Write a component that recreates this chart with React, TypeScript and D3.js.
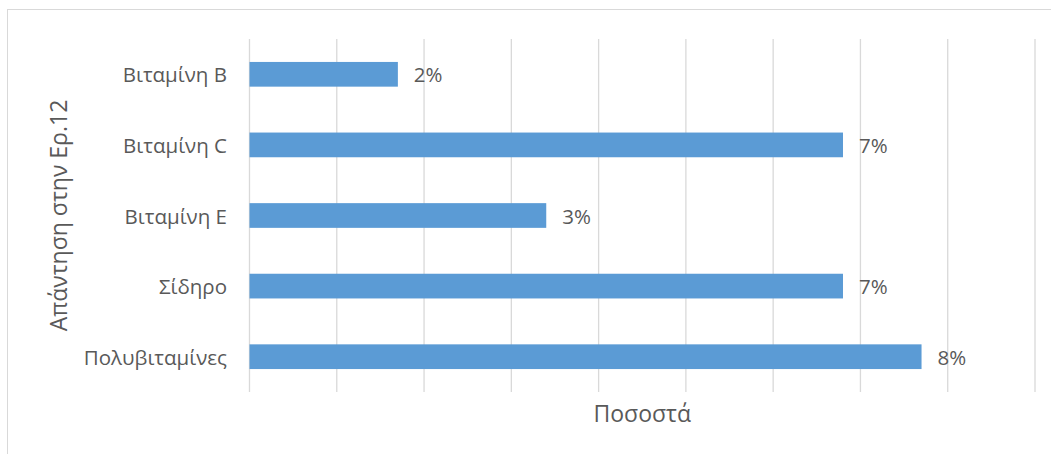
import React from "react";
import * as d3 from "d3";

const categories = ["Βιταμίνη B", "Βιταμίνη C", "Βιταμίνη E", "Σίδηρο", "Πολυβιταμίνες"];
const values = [0.017, 0.068, 0.034, 0.068, 0.077];
const valueLabels = ["2%", "7%", "3%", "7%", "8%"];
const xTicks = [0, 0.01, 0.02, 0.03, 0.04, 0.05, 0.06, 0.07, 0.08, 0.09];
const xTitle = "Ποσοστά";
const yTitle = "Απάντηση στην Ερ.12";

const W = 1051;
const H = 454;
const FONT = "'Open Sans', sans-serif";
const TEXT = "#595959";

export default function App() {
  const x = d3.scaleLinear().domain([0, 0.09]).range([249.5, 1035]);
  const y = d3
    .scaleBand<string>()
    .domain(categories)
    .range([39, 392])
    .paddingInner(0.65)
    .paddingOuter(0.325);
  const [y0, y1] = y.range();

  return (
    <svg
      width={W}
      height={H}
      style={{ position: "absolute", left: 0, top: 0, background: "#fff" }}
      fontFamily={FONT}
    >
      <rect x={7.5} y={9.5} width={1100} height={500} fill="#fff" stroke="#d9d9d9" strokeWidth={1} />
      {xTicks.map((t) => (
        <line key={t} x1={x(t)} x2={x(t)} y1={y0} y2={y1} stroke="#d9d9d9" strokeWidth={1.3} />
      ))}
      {categories.map((c, i) => {
        const by = y(c)!;
        const bh = y.bandwidth();
        return (
          <g key={c}>
            <rect x={x(0)} y={by} width={x(values[i]) - x(0)} height={bh} fill="#5b9bd5" />
            <text
              x={227}
              y={by + bh / 2}
              textAnchor="end"
              dominantBaseline="central"
              fontSize={20.5}
              fill={TEXT}
            >
              {c}
            </text>
            <text
              x={x(values[i]) + 16}
              y={by + bh / 2}
              textAnchor="start"
              dominantBaseline="central"
              fontSize={20.5}
              fill={TEXT}
            >
              {valueLabels[i]}
            </text>
          </g>
        );
      })}
      <text
        x={(x(0) + x(0.09)) / 2}
        y={413}
        textAnchor="middle"
        dominantBaseline="central"
        fontSize={23}
        fill={TEXT}
      >
        {xTitle}
      </text>
      <text
        transform={`translate(58, ${(y0 + y1) / 2}) rotate(-90)`}
        textAnchor="middle"
        dominantBaseline="central"
        fontSize={23}
        fill={TEXT}
      >
        {yTitle}
      </text>
    </svg>
  );
}
